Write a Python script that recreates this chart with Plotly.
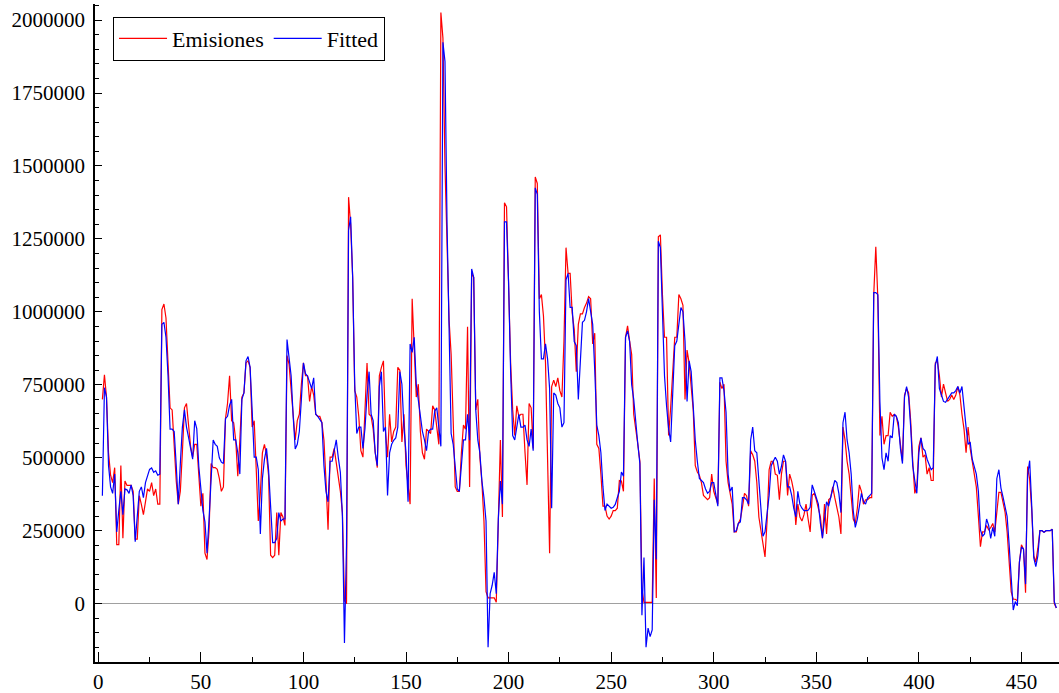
import plotly.graph_objects as go

# values in thousands, observations 2..467
emisiones_k = [
    700, 784, 708, 517, 440, 415, 466, 202, 202, 473,
    224, 420, 405, 405, 405, 385, 221, 221, 370, 340,
    305, 349, 393, 385, 415, 370, 393, 341, 341, 1008,
    1027, 979, 839, 671, 664, 517, 420, 341, 385, 520,
    671, 686, 605, 539, 502, 546, 546, 444, 334, 378,
    173, 151, 250, 480, 466, 466, 460, 429, 385, 400,
    634, 686, 781, 627, 620, 560, 437, 560, 708, 722,
    825, 832, 810, 605, 627, 459, 283, 378, 517, 546,
    510, 440, 166, 158, 166, 312, 166, 312, 297, 268,
    850, 820, 740, 649, 561, 627, 649, 752, 825, 781,
    781, 693, 744, 715, 649, 642, 642, 620, 560, 420,
    253, 502, 502, 532, 488, 429, 385, 312, 10, 0,
    1393, 1300, 1118, 730, 708, 640, 524, 502, 642, 825,
    649, 642, 598, 517, 466, 781, 810, 832, 590, 502,
    649, 554, 590, 605, 810, 800, 554, 649, 473, 400,
    341, 1045, 898, 708, 752, 590, 517, 495, 598, 590,
    583, 678, 664, 605, 546, 2026, 1938, 1500, 1264, 971,
    854, 634, 400, 385, 385, 517, 612, 598, 949, 400,
    1132, 1118, 664, 700, 502, 415, 283, 41, 20, 20,
    20, 20, 5, 312, 561, 297, 1374, 1360, 1103, 825,
    664, 576, 678, 642, 649, 649, 520, 407, 686, 671,
    532, 1462, 1440, 1045, 1059, 986, 825, 500, 173, 744,
    766, 744, 774, 730, 708, 900, 1220, 1132, 1132, 996,
    940, 795, 957, 993, 993, 1015, 1030, 1052, 1045, 890,
    927, 546, 532, 444, 334, 334, 300, 290, 300, 319,
    319, 327, 422, 420, 385, 913, 952, 900, 854, 649,
    605, 546, 488, 50, 4, 4, 4, 4, 4, 429,
    19, 1257, 1264, 1059, 913, 913, 576, 671, 810, 913,
    913, 1059, 1045, 1022, 700, 869, 825, 750, 664, 473,
    451, 440, 415, 371, 363, 356, 363, 444, 385, 363,
    341, 759, 737, 752, 488, 415, 371, 341, 246, 246,
    275, 290, 330, 378, 370, 334, 524, 510, 488, 415,
    297, 250, 217, 160, 283, 459, 488, 488, 444, 440,
    356, 444, 488, 488, 371, 444, 420, 385, 270, 341,
    297, 283, 305, 341, 290, 246, 371, 378, 356, 320,
    297, 224, 341, 239, 356, 363, 400, 363, 330, 297,
    239, 605, 561, 488, 444, 371, 290, 275, 327, 407,
    385, 341, 356, 356, 363, 363, 1059, 1223, 1045, 576,
    642, 546, 576, 576, 656, 642, 649, 642, 605, 546,
    488, 715, 737, 722, 627, 488, 378, 400, 539, 568,
    502, 510, 444, 466, 422, 422, 825, 832, 781, 708,
    752, 722, 693, 700, 715, 700, 715, 744, 715, 649,
    598, 517, 605, 532, 488, 459, 400, 300, 195, 246,
    246, 268, 253, 260, 275, 246, 327, 381, 381, 351,
    314, 247, 135, 40, 15, 15, 10, 142, 202, 187,
    37, 470, 426, 321, 164, 142, 190, 250, 250, 245,
    250, 250, 250, 255, 0, -15,
]

fitted_k = [
    370, 740, 708, 473, 400, 378, 444, 246, 320, 385,
    305, 393, 390, 378, 407, 370, 212, 312, 385, 400,
    363, 415, 440, 460, 465, 450, 455, 440, 444, 957,
    964, 913, 781, 598, 598, 590, 473, 341, 480, 605,
    664, 605, 570, 530, 495, 627, 600, 470, 400, 319,
    280, 173, 290, 430, 561, 546, 539, 500, 485, 480,
    634, 642, 680, 700, 561, 561, 517, 444, 700, 722,
    832, 847, 810, 664, 502, 502, 459, 239, 429, 495,
    532, 459, 330, 209, 209, 224, 312, 283, 290, 290,
    905, 850, 781, 642, 530, 546, 590, 700, 825, 788,
    780, 759, 737, 774, 649, 642, 630, 620, 473, 385,
    349, 488, 488, 532, 561, 500, 450, 300, -135, 200,
    1279, 1326, 1118, 751, 583, 605, 605, 532, 600, 715,
    795, 649, 627, 517, 473, 744, 795, 590, 605, 371,
    517, 546, 560, 568, 605, 795, 752, 605, 517, 349,
    890, 861, 913, 752, 700, 642, 590, 561, 524, 590,
    598, 598, 660, 671, 605, 539, 1924, 1858, 1300, 900,
    583, 546, 470, 393, 385, 488, 561, 561, 649, 560,
    1147, 1118, 664, 561, 517, 420, 363, 283, -149, 34,
    63, 107, 34, 290, 420, 341, 1308, 1308, 1103, 795,
    576, 561, 600, 649, 605, 605, 612, 561, 539, 598,
    524, 1425, 1403, 1000, 839, 839, 890, 839, 737, 327,
    722, 715, 686, 671, 605, 620, 1110, 1132, 1015, 1015,
    898, 884, 700, 832, 964, 971, 1001, 1045, 1000, 957,
    800, 612, 576, 517, 400, 319, 341, 335, 327, 330,
    340, 363, 385, 451, 437, 913, 935, 898, 750, 700,
    612, 546, 480, -40, 158, -149, -84, -113, -90, 356,
    151, 1242, 1220, 1015, 781, 678, 600, 554, 700, 884,
    900, 957, 1015, 1000, 900, 693, 832, 795, 678, 560,
    488, 429, 422, 415, 393, 378, 385, 415, 415, 380,
    334, 774, 774, 730, 656, 444, 385, 400, 246, 250,
    275, 280, 363, 363, 356, 341, 561, 605, 524, 517,
    422, 305, 231, 246, 300, 371, 473, 488, 502, 488,
    444, 470, 510, 488, 400, 400, 371, 327, 297, 385,
    340, 327, 319, 319, 320, 330, 407, 385, 360, 341,
    275, 224, 290, 349, 334, 363, 400, 422, 415, 378,
    312, 620, 656, 561, 517, 444, 319, 261, 290, 341,
    378, 350, 341, 363, 371, 378, 1066, 1066, 1059, 693,
    500, 459, 517, 488, 576, 568, 649, 642, 620, 532,
    480, 708, 744, 708, 605, 473, 422, 378, 517, 568,
    532, 524, 495, 480, 459, 466, 817, 847, 737, 715,
    693, 690, 700, 708, 722, 722, 730, 744, 722, 744,
    664, 605, 546, 554, 495, 466, 444, 385, 253, 231,
    239, 290, 268, 224, 261, 231, 429, 459, 396, 366,
    336, 299, 202, 97, -22, 7, -7, 142, 194, 187,
    67, 440, 490, 336, 157, 127, 164, 250, 250, 245,
    250, 250, 250, 255, 7, -15,
]

first_obs = 2
obs = list(range(first_obs, first_obs + len(emisiones_k)))
emisiones = [v * 1000 for v in emisiones_k]
fitted = [v * 1000 for v in fitted_k[:len(obs)]]

x_ticks = [0, 50, 100, 150, 200, 250, 300, 350, 400, 450]
y_ticks = [0, 250000, 500000, 750000, 1000000, 1250000, 1500000, 1750000, 2000000]

FONT = "Liberation Serif"

fig = go.Figure()
fig.add_trace(go.Scatter(x=obs, y=emisiones, mode="lines", name="Emisiones",
                         line=dict(color="#ff0000", width=1.2)))
fig.add_trace(go.Scatter(x=obs[:len(fitted)], y=fitted, mode="lines", name="Fitted",
                         line=dict(color="#0000ff", width=1.2)))

fig.update_layout(
    width=1059, height=693,
    margin=dict(l=95, r=0, t=4, b=31),
    paper_bgcolor="white", plot_bgcolor="white",
    font=dict(family=FONT, size=21, color="black"),
    showlegend=True,
    legend=dict(orientation="h", x=0.0187, y=0.981, xanchor="left", yanchor="top",
                bgcolor="white", bordercolor="black", borderwidth=1,
                font=dict(family=FONT, size=22, color="black"),
                itemwidth=48, tracegroupgap=0),
)

fig.update_xaxes(
    range=[-1.6, 468.3], showgrid=False, zeroline=False,
    showline=True, linecolor="black", linewidth=1.5,
    tickmode="array", tickvals=x_ticks, ticktext=[str(v) for v in x_ticks],
    ticks="inside", ticklen=10, tickwidth=1, tickcolor="black",
    minor=dict(dtick=25, tick0=0, ticks="inside", ticklen=5, tickcolor="black", showgrid=False),
    tickfont=dict(family=FONT, size=21, color="black"),
)
fig.update_yaxes(
    range=[-200000, 2055000], showgrid=False,
    zeroline=True, zerolinecolor="#a0a0a0", zerolinewidth=1,
    showline=True, linecolor="black", linewidth=1.5,
    tickmode="array", tickvals=y_ticks, ticktext=[str(v) for v in y_ticks],
    ticks="inside", ticklen=7, tickwidth=1, tickcolor="black",
    minor=dict(dtick=50000, tick0=0, ticks="inside", ticklen=4, tickcolor="black", showgrid=False),
    tickfont=dict(family=FONT, size=21, color="black"),
    ticklabelstandoff=4,
)

fig.write_html("out.html")
